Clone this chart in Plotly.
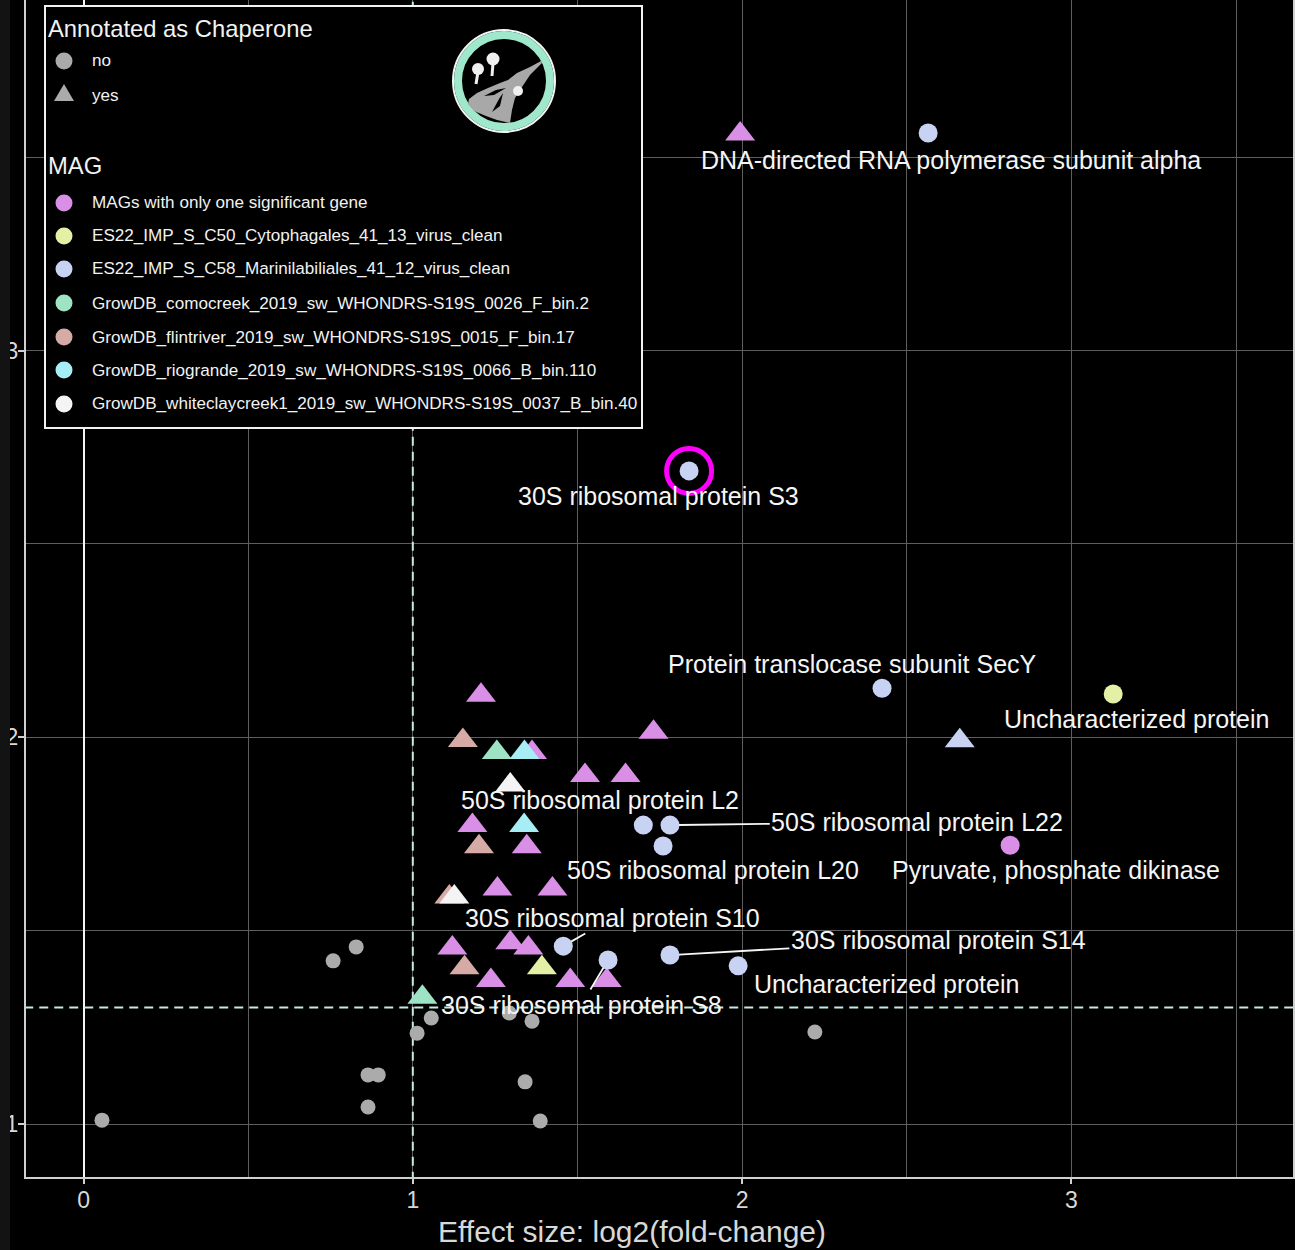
import plotly.graph_objects as go

# ---------------------------------------------------------------- data
mag_names = [
    "MAGs with only one significant gene",
    "ES22_IMP_S_C50_Cytophagales_41_13_virus_clean",
    "ES22_IMP_S_C58_Marinilabiliales_41_12_virus_clean",
    "GrowDB_comocreek_2019_sw_WHONDRS-S19S_0026_F_bin.2",
    "GrowDB_flintriver_2019_sw_WHONDRS-S19S_0015_F_bin.17",
    "GrowDB_riogrande_2019_sw_WHONDRS-S19S_0066_B_bin.110",
    "GrowDB_whiteclaycreek1_2019_sw_WHONDRS-S19S_0037_B_bin.40",
]
NS = "not significant"

log2_fold_change = [
    # not significant
    0.758, 0.828, 1.056, 1.013, 1.293, 1.362, 0.864, 0.895, 0.864, 1.341, 1.387, 0.056, 2.221,
    # MAGs with only one significant gene
    1.994, 1.731, 1.207, 1.362, 1.523, 1.646, 1.181, 1.346, 1.257, 1.424, 1.120, 1.296,
    1.351, 1.237, 1.478, 1.589, 2.814,
    # ES22 C50
    3.127, 1.392,
    # ES22 C58
    2.565, 1.839, 2.425, 2.661, 1.700, 1.781, 1.760, 1.457, 1.593, 1.781, 1.988,
    # comocreek
    1.255, 1.029,
    # flintriver
    1.152, 1.201, 1.111, 1.157,
    # riogrande
    1.339, 1.338,
    # whiteclaycreek1
    1.296, 1.126,
]
neg_log10_p = [
    1.422, 1.458, 1.274, 1.235, 1.287, 1.266, 1.127, 1.127, 1.044, 1.109, 1.008, 1.010, 1.238,
    3.560, 2.013, 2.109, 1.961, 1.901, 1.901, 1.772, 1.717, 1.608, 1.608, 1.455, 1.469,
    1.455, 1.371, 1.371, 1.371, 1.721,
    2.112, 1.404,
    3.563, 2.689, 2.127, 1.991, 1.773, 1.773, 1.719, 1.460, 1.424, 1.437, 1.409,
    1.961, 1.328,
    1.992, 1.717, 1.587, 1.404,
    1.961, 1.772,
    1.877, 1.587,
]
mag = (
    [NS] * 13
    + [mag_names[0]] * 17
    + [mag_names[1]] * 2
    + [mag_names[2]] * 11
    + [mag_names[3]] * 2
    + [mag_names[4]] * 4
    + [mag_names[5]] * 2
    + [mag_names[6]] * 2
)
chaperone = (
    ["no"] * 13
    + ["yes"] * 16 + ["no"]
    + ["no", "yes"]
    + ["no", "no", "no", "yes", "no", "no", "no", "no", "no", "no", "no"]
    + ["yes"] * 2
    + ["yes"] * 4
    + ["yes"] * 2
    + ["yes"] * 2
)
protein_label = (
    [""] * 13
    + [""] * 16 + ["Pyruvate, phosphate dikinase"]
    + ["Uncharacterized protein", ""]
    + ["DNA-directed RNA polymerase subunit alpha", "30S ribosomal protein S3",
       "Protein translocase subunit SecY", "", "50S ribosomal protein L2",
       "50S ribosomal protein L22", "50S ribosomal protein L20",
       "30S ribosomal protein S10", "30S ribosomal protein S8",
       "30S ribosomal protein S14", "Uncharacterized protein"]
    + [""] * 10
)
highlight_protein = "30S ribosomal protein S3"
FC_THRESHOLD = 1.0                 # log2 fold change
P_THRESHOLD_NEGLOG = 1.30103       # -log10(0.05)

# ---------------------------------------------------------------- styles
mag_colors = ["#DA8FE6", "#E4F0A6", "#C8D3F4", "#9FE3C7", "#D6ABA6", "#A6EDF4", "#F4F4F4"]
NS_COLOR = "#ABABAB"
FONT = "Liberation Sans"
# label placement offsets (data units), in order of labelled points
label_dx = [0.140, 0.070, 0.070, -0.094, -0.091, -0.131, 0.751, 0.152, 0.148, -0.082, 0.815, 0.450]
label_dy = [-0.064, -0.065, -0.070, -0.065, 0.063, 0.065, 0.008, -0.062, 0.073, -0.116, 0.039, -0.047]
label_segment = [False, False, False, False, False, False, True, False, True, True, True, False]

W, H = 1295, 1250
PL, PR, PT, PB = 26, 1293, 0, 1177
PW, PH = PR - PL, PB - PT


def fx(p):
    return (p - PL) / PW


def fy(p):
    return (PB - p) / PH


fig = go.Figure()

# reference lines (drawn under points)
fig.add_trace(go.Scatter(x=[FC_THRESHOLD, FC_THRESHOLD], y=[0.0, 5.0], mode="lines",
                         line=dict(color="#C5EBE4", width=2, dash="9px,6px"),
                         hoverinfo="skip", showlegend=False))
fig.add_trace(go.Scatter(x=[-1.0, 5.0], y=[P_THRESHOLD_NEGLOG, P_THRESHOLD_NEGLOG], mode="lines",
                         line=dict(color="#C5EBE4", width=2, dash="9px,6px"),
                         hoverinfo="skip", showlegend=False))

groups = [NS] + mag_names
colors = [NS_COLOR] + mag_colors
for g, col in zip(groups, colors):
    for ch, sym in (("no", "circle"), ("yes", "triangle-up")):
        idx = [i for i in range(len(mag)) if mag[i] == g and chaperone[i] == ch]
        if not idx:
            continue
        if sym == "circle":
            size = 15 if g == NS else 19
        else:
            size = 26
        fig.add_trace(go.Scatter(
            x=[log2_fold_change[i] for i in idx],
            y=[neg_log10_p[i] for i in idx],
            mode="markers", name=g,
            marker=dict(symbol=sym, size=size, color=col, line=dict(width=0)),
            showlegend=False,
            text=[protein_label[i] for i in idx],
        ))

# highlight ring
hi = protein_label.index(highlight_protein)
fig.add_trace(go.Scatter(x=[log2_fold_change[hi]], y=[neg_log10_p[hi]], mode="markers",
                         marker=dict(symbol="circle-open", size=45, color="#FF00FF",
                                     line=dict(width=5, color="#FF00FF")),
                         hoverinfo="skip", showlegend=False))

annotations = []
k = 0
for i, lab in enumerate(protein_label):
    if not lab:
        continue
    px_, py_ = log2_fold_change[i], neg_log10_p[i]
    tx, ty = px_ + label_dx[k], py_ + label_dy[k]
    if label_segment[k]:
        annotations.append(dict(x=px_, y=py_, ax=tx, ay=ty, axref="x", ayref="y",
                                xref="x", yref="y", text=lab, showarrow=True,
                                arrowhead=0, arrowwidth=1.8, arrowcolor="#F5F5F5",
                                standoff=9, font=dict(family=FONT, size=25, color="#F5F5F5")))
    else:
        annotations.append(dict(x=tx, y=ty, xref="x", yref="y", text=lab, showarrow=False,
                                font=dict(family=FONT, size=25, color="#F5F5F5")))
    k += 1

# axis title
annotations.append(dict(x=fx(632), y=fy(1232), xref="paper", yref="paper",
                        text="Effect size: log2(fold-change)", showarrow=False,
                        xanchor="center", yanchor="middle",
                        font=dict(family=FONT, size=30, color="#D8D8D8")))

# ---------------------------------------------------------------- legend (manual)
shapes = []
shapes.append(dict(type="rect", xref="paper", yref="paper", x0=fx(0), x1=fx(10), y0=-0.2, y1=1.2,
                   fillcolor="#131313", line=dict(width=0), layer="above"))
shapes.append(dict(type="rect", xref="paper", yref="paper", x0=fx(45), x1=fx(642), y0=fy(428), y1=fy(6),
                   fillcolor="#000000", line=dict(color="#F2F2F2", width=2), layer="above"))


def circle(cx, cy, r, fill, line_col=None, lw=0):
    return dict(type="circle", xref="paper", yref="paper", x0=fx(cx - r), x1=fx(cx + r),
                y0=fy(cy + r), y1=fy(cy - r), fillcolor=fill,
                line=dict(color=line_col or fill, width=lw), layer="above")


def path(pts, fill, line_col=None, lw=0):
    d = "M" + " L".join(f"{fx(a):.5f},{fy(b):.5f}" for a, b in pts) + " Z"
    return dict(type="path", xref="paper", yref="paper", path=d, fillcolor=fill,
                line=dict(color=line_col or fill, width=lw), layer="above")


def legtext(x, y, s, size):
    annotations.append(dict(x=fx(x), y=fy(y), xref="paper", yref="paper", text=s,
                            showarrow=False, xanchor="left", yanchor="middle",
                            font=dict(family=FONT, size=size, color="#F2F2F2")))


legtext(46, 29, "Annotated as Chaperone", 23.8)
shapes.append(circle(64, 61, 8.5, NS_COLOR))
legtext(90, 61, "no", 17.1)
shapes.append(path([(54, 101), (74, 101), (64, 84)], NS_COLOR))
legtext(90, 95, "yes", 17.1)
legtext(46, 165, "MAG", 23.8)
row_y = [203, 236, 269, 303, 337, 370, 404]
for name, col, yy in zip(mag_names, mag_colors, row_y):
    shapes.append(circle(64, yy, 8.5, col))
    legtext(90, yy, name, 17.1)

# logo
shapes.append(circle(504, 81, 51, "#000000", "#F5F5F5", 2))
shapes.append(circle(504, 81, 46, "rgba(0,0,0,0)", "#9FE8CC", 8))
shapes.append(path([(541, 61), (530, 67), (517, 73), (508, 80), (500, 83), (488, 88), (477, 93),
                    (469, 99), (468, 104), (474, 111), (486, 116), (497, 120), (510, 123),
                    (512, 110), (515, 98), (522, 87), (530, 75), (542, 63)], "#A8A8A8"))
shapes.append(path([(484, 96), (496, 90), (506, 88), (494, 95)], "#000000"))
shapes.append(path([(492, 112), (499, 99), (503, 93), (500, 106)], "#000000"))
for (cx, cy, r, sx0, sy0, sx1, sy1) in [(478, 69, 6, 478, 72, 476, 84), (493, 59, 6.5, 493, 63, 492, 76),
                                        (518, 91, 5, 518, 91, 518, 91)]:
    shapes.append(dict(type="line", xref="paper", yref="paper", x0=fx(sx0), y0=fy(sy0),
                       x1=fx(sx1), y1=fy(sy1), line=dict(color="#F0F0F0", width=3), layer="above"))
    shapes.append(circle(cx, cy, r, "#F0F0F0"))

GRID = "#5E5E5E"
fig.update_layout(
    width=W, height=H,
    margin=dict(l=PL, r=W - PR, t=PT, b=H - PB, pad=0),
    paper_bgcolor="#000000", plot_bgcolor="#000000",
    font=dict(family=FONT, color="#D8D8D8"),
    showlegend=False,
    shapes=shapes, annotations=annotations,
    xaxis=dict(range=[-0.1747, 3.673], tickmode="linear", tick0=0, dtick=1,
               showgrid=True, gridcolor=GRID, gridwidth=1.3,
               minor=dict(dtick=0.5, tick0=0, showgrid=True, gridcolor=GRID, gridwidth=1.3),
               zeroline=True, zerolinecolor="#F5F5F5", zerolinewidth=2,
               showline=True, linecolor="#D0D0D0", linewidth=2, mirror=False,
               ticks="outside", ticklen=5, tickwidth=1.5, tickcolor="#D0D0D0",
               ticklabelstandoff=-4,
               tickfont=dict(family=FONT, size=23, color="#D8D8D8")),
    yaxis=dict(range=[0.863, 3.9067], tickmode="linear", tick0=0, dtick=1,
               showgrid=True, gridcolor=GRID, gridwidth=1.3,
               minor=dict(dtick=0.5, tick0=0, showgrid=True, gridcolor=GRID, gridwidth=1.3),
               zeroline=False,
               showline=True, linecolor="#D0D0D0", linewidth=2, mirror=True,
               ticks="outside", ticklen=6, tickwidth=1.5, tickcolor="#D0D0D0",
               ticklabelstandoff=-5,
               tickfont=dict(family=FONT, size=23, color="#D8D8D8")),
)

fig.write_html("out.html")
